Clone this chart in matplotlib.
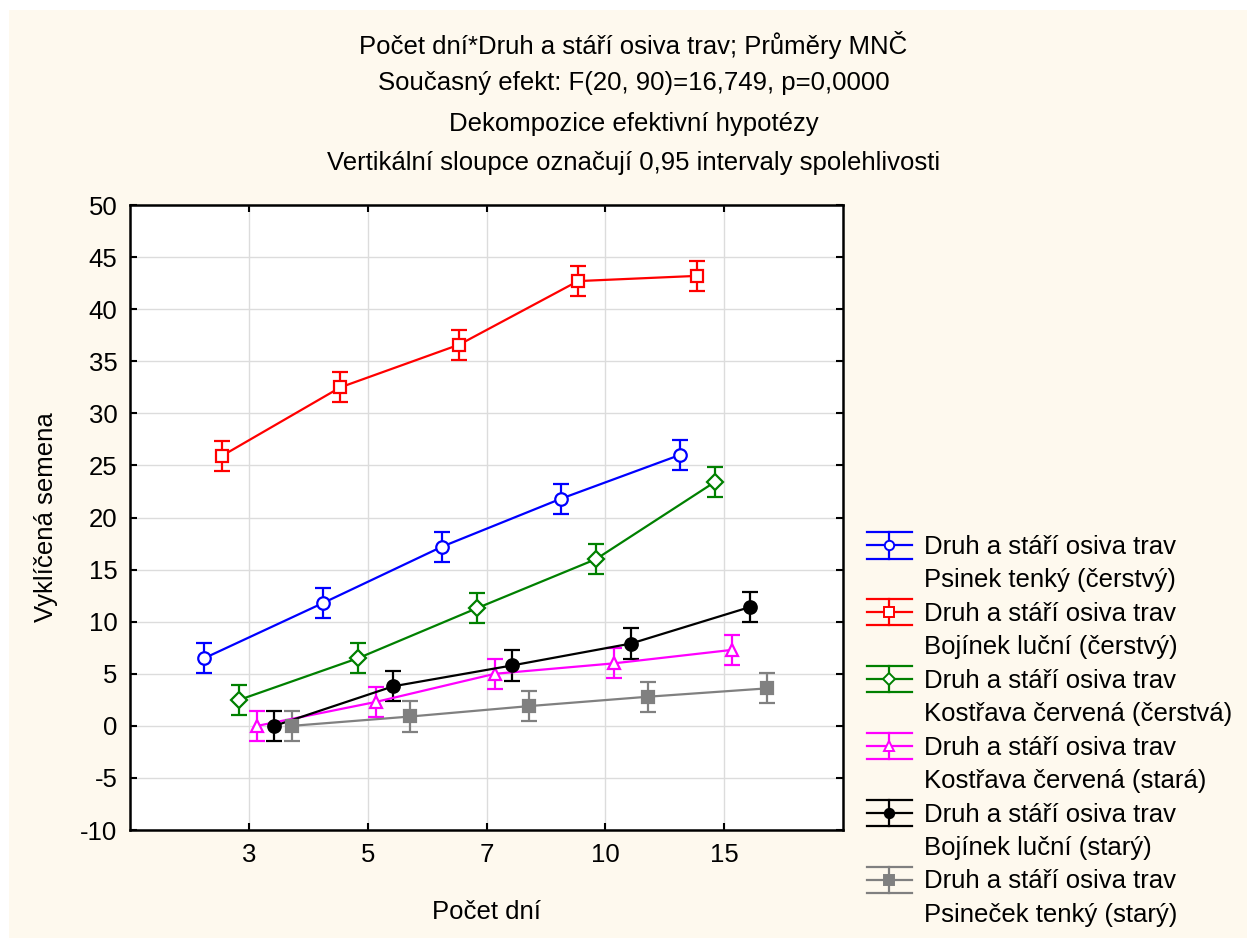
import numpy as np
import matplotlib.pyplot as plt
from matplotlib.lines import Line2D
from matplotlib.legend_handler import HandlerBase

plt.rcParams['font.family'] = ['Liberation Sans', 'DejaVu Sans']
plt.rcParams['axes.unicode_minus'] = False

# Days (categorical x axis)
days = ['3', '5', '7', '10', '15']

# LSM means of sprouted seeds per grass / seed age
psinek_cerstvy = [6.5, 11.8, 17.2, 21.8, 26.0]
bojinek_cerstvy = [25.9, 32.5, 36.6, 42.7, 43.2]
kostrava_cerstva = [2.5, 6.5, 11.3, 16.0, 23.4]
kostrava_stara = [0.0, 2.3, 5.0, 6.0, 7.3]
bojinek_stary = [0.0, 3.8, 5.8, 7.9, 11.4]
psinecek_stary = [0.0, 0.9, 1.9, 2.8, 3.6]

# half width of the 0.95 confidence interval
ci_half = 1.45

labels = [
    'Druh a stáří osiva trav\nPsinek tenký (čerstvý)',
    'Druh a stáří osiva trav\nBojínek luční (čerstvý)',
    'Druh a stáří osiva trav\nKostřava červená (čerstvá)',
    'Druh a stáří osiva trav\nKostřava červená (stará)',
    'Druh a stáří osiva trav\nBojínek luční (starý)',
    'Druh a stáří osiva trav\nPsineček tenký (starý)',
]
series = [psinek_cerstvy, bojinek_cerstvy, kostrava_cerstva,
          kostrava_stara, bojinek_stary, psinecek_stary]
colors = ['#0000ff', '#ff0000', '#008000', '#ff00ff', '#000000', '#808080']
markers = ['o', 's', 'D', '^', 'o', 's']
filled = [False, False, False, False, True, True]
msizes = [9, 9, 8, 9, 9, 9]
offsets = [-0.375, -0.23, -0.08, 0.07, 0.215, 0.36]

bg = '#fef9ee'
fs = 18.5


class ErrbarHandler(HandlerBase):
    """Legend key: line with marker, vertical bar and two wide caps."""

    def __init__(self, dy=0.0, **kw):
        super().__init__(**kw)
        self.dy = dy

    def create_artists(self, legend, orig_handle, xdescent, ydescent,
                       width, height, fontsize, trans):
        c = orig_handle.get_color()
        x0, x1 = -xdescent, width - xdescent
        xm = 0.5 * (x0 + x1)
        ym = 0.5 * height - ydescent + self.dy
        h = 9.5
        arts = [
            Line2D([x0, x1], [ym, ym], color=c, lw=1.6),
            Line2D([x0, x1], [ym + h, ym + h], color=c, lw=1.6),
            Line2D([x0, x1], [ym - h, ym - h], color=c, lw=1.6),
            Line2D([xm, xm], [ym - h, ym + h], color=c, lw=1.6),
            Line2D([xm], [ym], marker=orig_handle.get_marker(), color=c,
                   markersize=orig_handle.get_markersize() * 0.75,
                   markerfacecolor=orig_handle.get_markerfacecolor(),
                   markeredgewidth=1.4, linestyle='none'),
        ]
        for a in arts:
            a.set_transform(trans)
        return arts


fig = plt.figure(figsize=(12.47, 9.38), dpi=100, facecolor='white')
fig.patches.append(plt.Rectangle((9 / 1247, 0), 1, 1 - 10 / 938,
                                 transform=fig.transFigure,
                                 facecolor=bg, edgecolor='none', zorder=-10))
ax = fig.add_axes([0.1043, 0.1151, 0.5717, 0.6663])
ax.set_facecolor('white')

x = np.arange(1, len(days) + 1)
handles = []
for vals, col, mk, fl, ms, off in zip(series, colors, markers, filled, msizes, offsets):
    mfc = col if fl else 'white'
    ax.errorbar(x + off, vals, yerr=ci_half, color=col, marker=mk,
                markersize=ms, markerfacecolor=mfc, markeredgecolor=col,
                markeredgewidth=1.6, lw=1.6, capsize=5.5, capthick=1.6,
                elinewidth=1.6, zorder=3)
    handles.append(Line2D([], [], color=col, marker=mk, markersize=ms,
                          markerfacecolor=mfc))

ax.set_xlim(0, 6)
ax.set_ylim(-10, 50)
ax.set_xticks(x)
ax.set_xticklabels(days)
ax.set_yticks(np.arange(-10, 51, 5))
ax.grid(True, color='#dcdcdc', lw=1)
ax.set_axisbelow(True)
ax.tick_params(direction='in', length=5, width=1.5, labelsize=fs,
               top=True, right=True, pad=9)
for sp in ax.spines.values():
    sp.set_linewidth(1.8)

ax.set_xlabel('Počet dní', fontsize=fs, labelpad=24)
ax.set_ylabel('Vyklíčená semena', fontsize=fs, labelpad=16)

titles = [
    'Počet dní*Druh a stáří osiva trav; Průměry MNČ',
    'Současný efekt: F(20, 90)=16,749, p=0,0000',
    'Dekompozice efektivní hypotézy',
    'Vertikální sloupce označují 0,95 intervaly spolehlivosti',
]
for t, yy in zip(titles, [45, 83, 124, 163]):
    fig.text(0.508, 1 - yy / 938, t, ha='center', va='center', fontsize=fs)

leg = fig.legend(handles, labels, loc='upper left',
                 bbox_to_anchor=(0.695, 1 - 535 / 938), frameon=False,
                 fontsize=fs, handlelength=1.75, handletextpad=0.5,
                 labelspacing=0.38, borderpad=0, borderaxespad=0,
                 handler_map={Line2D: ErrbarHandler(dy=13.5)})
for t in leg.get_texts():
    t.set_linespacing(1.48)

fig.savefig('out.png', dpi=100, facecolor='white')
